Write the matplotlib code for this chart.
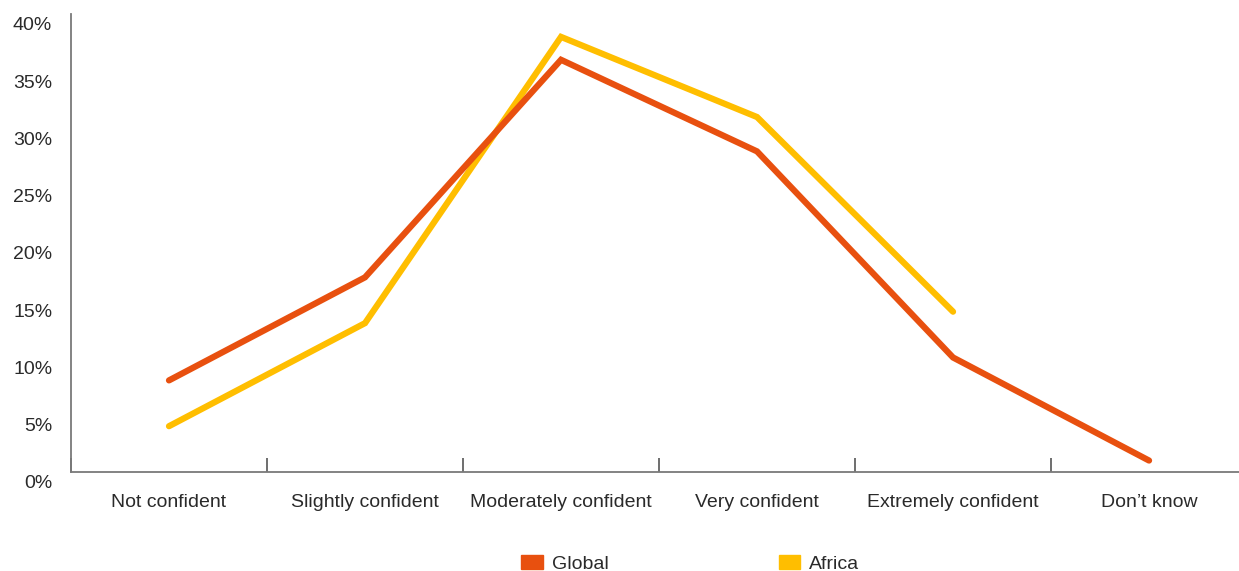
import matplotlib.pyplot as plt
import matplotlib.transforms as mtransforms
from matplotlib.patches import Patch
import numpy as np

# 数据
categories = ['Not confident', 'Slightly confident', 'Moderately confident',
              'Very confident', 'Extremely confident', 'Don\u2019t know']
global_vals = [8, 17, 36, 28, 10, 1]
africa_vals = [4, 13, 38, 31, 14, np.nan]
yticks = [0, 5, 10, 15, 20, 25, 30, 35, 40]
ytick_labels = ['0%', '5%', '10%', '15%', '20%', '25%', '30%', '35%', '40%']

plt.rcParams['font.family'] = ['Liberation Sans', 'DejaVu Sans']

fig = plt.figure(figsize=(12.39, 5.71), dpi=100)
ax = fig.add_axes([0.0573, 0.1734, 0.9492, 0.8021])

x = np.arange(len(categories))
c_global = '#E8500F'
c_africa = '#FFBE00'
ax.plot(x, global_vals, color=c_global, lw=4.5, solid_capstyle='round',
        solid_joinstyle='miter', zorder=3)
ax.plot(x, africa_vals, color=c_africa, lw=4.5, solid_capstyle='round',
        solid_joinstyle='miter', zorder=2)

ax.set_xlim(-0.5, 5.5)
ax.set_ylim(0, 40)

# 坐标轴样式
for s in ['top', 'right']:
    ax.spines[s].set_visible(False)
for s in ['left', 'bottom']:
    ax.spines[s].set_color('#7a7a7a')
    ax.spines[s].set_linewidth(1.3)

fs = 14
ax.set_xticks(x)
ax.set_xticklabels(categories, fontsize=fs, color='#2a2a2a')
ax.tick_params(axis='x', which='major', length=0, pad=16)
ax.set_xticks(np.arange(-0.5, 5.5, 1), minor=True)
ax.tick_params(axis='x', which='minor', direction='in', length=10, width=1.2,
               color='#555555')

ax.set_yticks(yticks)
ax.set_yticklabels(ytick_labels, fontsize=fs, color='#2a2a2a')
ax.tick_params(axis='y', length=0, pad=13.5)
# y轴标签整体下移
offset = mtransforms.ScaledTranslation(0, -10 / 100, fig.dpi_scale_trans)
for lab in ax.get_yticklabels():
    lab.set_transform(lab.get_transform() + offset)

# 图例
handles = [Patch(color=c_global, label='Global'), Patch(color=c_africa, label='Africa')]
fig.legend(handles=handles, loc='center', bbox_to_anchor=(0.557, 0.012),
           ncol=2, frameon=False, fontsize=fs, handlelength=1.13,
           handleheight=0.67, handletextpad=0.46, columnspacing=8.75,
           labelcolor='#2a2a2a')

fig.savefig('out.png', dpi=100)
